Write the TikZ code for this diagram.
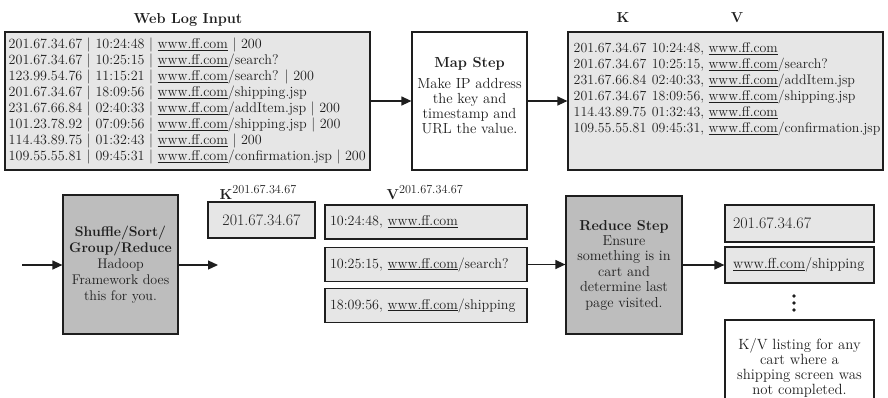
\documentclass[tikz,border=0pt]{standalone}
\usetikzlibrary{arrows.meta}
\definecolor{boxlight}{HTML}{E6E6E6}
\definecolor{boxdark}{HTML}{BDBDBD}
\definecolor{ink}{HTML}{1E1E1E}
\newcommand{\ffcom}{\underline{www.ff.com}}
\begin{document}
\begin{tikzpicture}[x=1pt,y=-1pt,
  every node/.style={text=ink},
  box/.style={draw=ink, line width=1.2pt, rectangle, inner sep=0pt},
  lightbox/.style={box, fill=boxlight},
  darkbox/.style={box, fill=boxdark},
  plainbox/.style={box, fill=white},
  flow/.style={draw=ink, line width=1.2pt, -{Triangle[length=10pt,width=9pt]}},
  listfont/.style={font=\fontsize{14.1}{16}\selectfont},
  headfont/.style={font=\fontsize{14.5}{16}\selectfont\bfseries},
]
\useasboundingbox (0,0) rectangle (888,397);

% ---------- top row: input, map step, key/value output ----------
\node[headfont, anchor=base] (title) at (188,23) {Web Log Input};
\node[lightbox, minimum width=365pt, minimum height=138pt] (logbox) at (187.5,101) {};
\node[listfont, anchor=west, inner sep=0pt, align=left] (logtext) at (8.5,101) {%
201.67.34.67 | 10:24:48 | \ffcom{} | 200\\
201.67.34.67 | 10:25:15 | \ffcom/search?\\
123.99.54.76 | 11:15:21 | \ffcom/search? | 200\\
201.67.34.67 | 18:09:56 | \ffcom/shipping.jsp\\
231.67.66.84 | 02:40:33 | \ffcom/addItem.jsp | 200\\
101.23.78.92 | 07:09:56 | \ffcom/shipping.jsp | 200\\
114.43.89.75 | 01:32:43 | \ffcom{} | 200\\
109.55.55.81 | 09:45:31 | \ffcom/confirmation.jsp | 200};

\node[plainbox, minimum width=115pt, minimum height=138pt] (mapstep) at (469.5,101) {};
\node[font=\fontsize{14.6}{15}\selectfont, align=center, inner sep=0pt] (maptext) at (469.5,96) {%
\textbf{Map Step}\\[6pt]
Make IP address\\the key and\\timestamp and\\URL the value.};

\node[headfont, anchor=base] (klab) at (623,22) {K};
\node[headfont, anchor=base] (vlab) at (737,22) {V};
\node[lightbox, minimum width=315pt, minimum height=138pt] (kvbox) at (725.5,101) {};
\node[font=\fontsize{13.9}{16}\selectfont, anchor=north west, inner sep=0pt, align=left] (kvtext) at (573.5,43) {%
201.67.34.67\hspace{0.4em}10:24:48, \ffcom\\
201.67.34.67\hspace{0.4em}10:25:15, \ffcom/search?\\
231.67.66.84\hspace{0.4em}02:40:33, \ffcom/addItem.jsp\\
201.67.34.67\hspace{0.4em}18:09:56, \ffcom/shipping.jsp\\
114.43.89.75\hspace{0.4em}01:32:43, \ffcom\\
109.55.55.81\hspace{0.4em}09:45:31, \ffcom/confirmation.jsp};

\draw[flow] (logbox) -- (mapstep);
\draw[flow] (mapstep) -- (kvbox);

% ---------- bottom row: shuffle, grouped values, reduce step ----------
\coordinate (shufin) at (22,265);
\node[darkbox, font=\fontsize{14}{16}\selectfont, minimum width=115pt,
      minimum height=139pt, align=center] (shuffle) at (120.5,264.5) {%
\textbf{Shuffle/Sort/}\\\textbf{Group/Reduce}\\Hadoop\\Framework does\\this for you.};
\coordinate (shufout) at (218,265);
\draw[flow] (shufin) -- (shuffle.west |- shufin);
\draw[flow] (shuffle.east |- shufout) -- (shufout);

\node[anchor=base west, inner sep=0pt] (kgroup) at (219.5,199) {%
{\fontsize{14.5}{16}\selectfont\bfseries K}\raisebox{6pt}{\fontsize{12.2}{13}\selectfont 201.67.34.67}};
\node[lightbox, font=\fontsize{16}{18}\selectfont, minimum width=107pt,
      minimum height=36pt] (kbox) at (261.5,220) {201.67.34.67};

\node[anchor=base west, inner sep=0pt] (vgroup) at (386.5,199) {%
{\fontsize{14.5}{16}\selectfont\bfseries V}\raisebox{6pt}{\fontsize{12.2}{13}\selectfont 201.67.34.67}};
\tikzset{vval/.style={lightbox, font=\fontsize{14.1}{16}\selectfont,
      minimum width=202pt, minimum height=34pt, inner xsep=5pt,
      text width=192pt, align=left}}
\node[vval] (v1) at (426,222) {10:24:48, \ffcom};
\node[vval] (v2) at (426,264.5) {10:25:15, \ffcom/search?};
\node[vval] (v3) at (426,305.5) {18:09:56, \ffcom/shipping};

\node[darkbox, font=\fontsize{14.4}{15.4}\selectfont, minimum width=116pt,
      minimum height=138pt, align=center] (reduce) at (624,265) {%
\textbf{Reduce Step}\\Ensure\\something is in\\cart and\\determine last\\page visited.};

\draw[flow] (v2.east) -- (reduce.west |- v2.east);

% ---------- reduce output ----------
\tikzset{outval/.style={lightbox, minimum width=149pt, inner xsep=8pt,
      text width=133pt, align=left}}
\node[outval, font=\fontsize{16}{18}\selectfont, minimum height=37pt] (o1) at (799.5,223.5) {201.67.34.67};
\node[outval, font=\fontsize{14.5}{16}\selectfont, minimum height=36pt] (o2) at (799.5,265) {\ffcom/shipping};
\draw[flow] (reduce.east |- o2.west) -- (o2.west);

\fill[ink] (794,296) circle (1.9pt) (794,303) circle (1.9pt) (794,310) circle (1.9pt);

\node[plainbox, font=\fontsize{14.8}{15}\selectfont, minimum width=149pt, minimum height=95pt,
      align=center] (note) at (799.5,367.5) {%
K/V listing for any\\cart where a\\shipping screen was\\not completed.};
\end{tikzpicture}
\end{document}
